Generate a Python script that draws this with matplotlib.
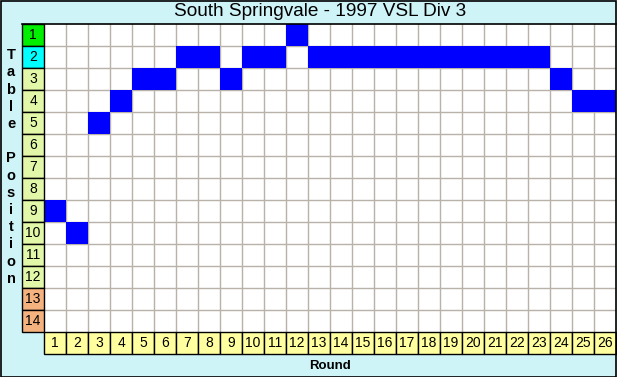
import matplotlib
matplotlib.use("Agg")
import matplotlib.pyplot as plt
from matplotlib.patches import Rectangle

# data
rounds = list(range(1, 27))
positions = [9, 10, 5, 4, 3, 3, 2, 2, 3, 2, 2, 1, 2, 2, 2, 2, 2, 2, 2, 2, 2, 2, 2, 3, 4, 4]
table_rows = list(range(1, 15))
row_colors = ["#00ee00", "#00ffff"] + ["#e2f8a8"] * 10 + ["#f4b27e"] * 2
title = "South Springvale - 1997 VSL Div 3"

plt.rcParams['font.family'] = ['Liberation Sans', 'DejaVu Sans']

W, H = 617, 377
fig = plt.figure(figsize=(W / 100, H / 100), dpi=100)
fig.patch.set_facecolor("#cef4f8")

# outer frame
fig.add_artist(Rectangle((0.5 / W, 0.5 / H), 1 - 1.5 / W, 1 - 1.5 / H, transform=fig.transFigure,
                         fill=False, edgecolor="black", linewidth=1.2))

ax = fig.add_axes([44 / W, 1 - 332 / H, 572 / W, 308 / H])
ax.set_facecolor("white")
ax.set_xlim(0.5, 26.5)
ax.set_ylim(14.5, 0.5)

# grid
for x in range(1, 26):
    ax.axvline(x + 0.5, color="#b8b2a8", linewidth=1.0, zorder=1)
for y in range(1, 14):
    ax.axhline(y + 0.5, color="#b8b2a8", linewidth=1.0, zorder=1)

# position cells
ax.bar(rounds, 1, bottom=[p - 0.5 for p in positions], width=1, color="#0000ff", zorder=2)

ax.set_xticks([])
ax.set_yticks([])
for s in ax.spines.values():
    s.set_visible(False)
ax.plot([-0.5, 26.5], [0.5, 0.5], color="black", linewidth=1.2, clip_on=False, zorder=5)

# table position labels on left
for r, c in zip(table_rows, row_colors):
    ax.add_patch(Rectangle((-0.5, r - 0.5), 1, 1, facecolor=c, edgecolor="black",
                           linewidth=1, clip_on=False, zorder=3))
    ax.text(0, r, str(r), ha="center", va="center", fontsize=10, clip_on=False, zorder=4)

# round labels at bottom
for rd in rounds:
    ax.add_patch(Rectangle((rd - 0.5, 14.5), 1, 1, facecolor="#ffffa0", edgecolor="black",
                           linewidth=1, clip_on=False, zorder=3))
    ax.text(rd, 15, str(rd), ha="center", va="center", fontsize=10, clip_on=False, zorder=4)

fig.text(320 / W, 1 - 12 / H, title, ha="center", va="center", fontsize=13.7)
fig.text(330 / W, 1 - 366 / H, "Round", ha="center", va="center", fontsize=9.5, fontweight="bold")
fig.text(11 / W, 1 - 167 / H, "\n".join("Table Position"), ha="center", va="center",
         fontsize=10.5, fontweight="bold", linespacing=1.29)

fig.savefig("out.png", dpi=100, facecolor=fig.get_facecolor())
